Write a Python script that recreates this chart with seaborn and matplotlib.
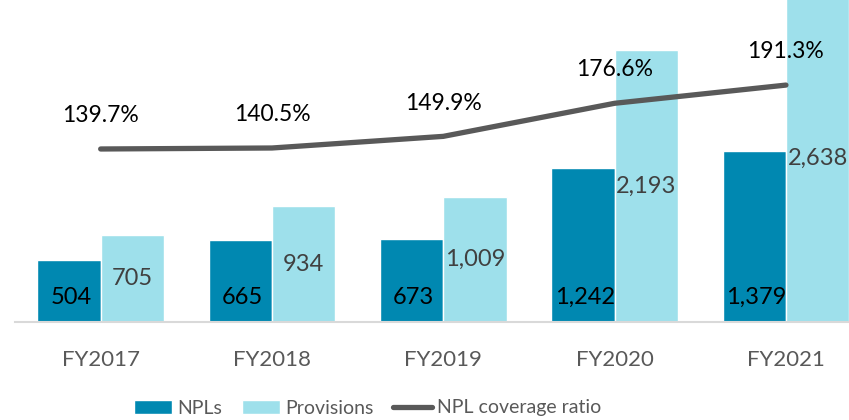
import numpy as np
import pandas as pd
import matplotlib.pyplot as plt
import seaborn as sns
from matplotlib.patches import Patch
from matplotlib.lines import Line2D

years = ['FY2017', 'FY2018', 'FY2019', 'FY2020', 'FY2021']
npls = [504, 665, 673, 1242, 1379]
provisions = [705, 934, 1009, 2193, 2638]
coverage = [139.7, 140.5, 149.9, 176.6, 191.3]

c_npl = '#0088B1'
c_prov = '#9EE0EB'
c_line = '#595959'
c_text = '#595959'

sns.set_style('white')
plt.rcParams['font.family'] = ['Lato', 'DejaVu Sans']

df = pd.DataFrame({
    'year': years * 2,
    'value': npls + provisions,
    'series': ['NPLs'] * 5 + ['Provisions'] * 5,
})

fig = plt.figure(figsize=(8.49, 4.2), dpi=100)
ax = fig.add_axes([15 / 849, 98 / 420, 834 / 849, 322 / 420])

sns.barplot(data=df, x='year', y='value', hue='series', order=years,
            palette=[c_npl, c_prov], width=0.74, saturation=1,
            legend=False, ax=ax)
ax.set_ylim(0, 2600)
ax.set_xlim(-0.5, 4.368)
ax.set_xlabel('')
ax.set_ylabel('')
ax.set_yticks([])
ax.tick_params(axis='x', length=0, pad=20, labelsize=16, labelcolor=c_text)
for s in ['top', 'right', 'left']:
    ax.spines[s].set_visible(False)
ax.spines['bottom'].set_color('#D9D9D9')
ax.spines['bottom'].set_linewidth(1.5)

# bar labels: NPLs near the base, provisions at the centre
npl_bars = ax.containers[0]
prov_bars = ax.containers[1]
for bar, v in zip(npl_bars, npls):
    ax.annotate(f'{v:,}', (bar.get_x() + bar.get_width() / 2, 0),
                xytext=(1.5, 18), textcoords='offset points',
                ha='center', va='center', fontsize=17, color='black')
for bar, v in zip(prov_bars, provisions):
    ax.annotate(f'{v:,}', (bar.get_x() + bar.get_width() / 2, v / 2),
                ha='center', va='center', fontsize=17, color='#404040',
                annotation_clip=False)

ax2 = ax.twinx()
pos = np.arange(len(years))
sns.lineplot(x=pos, y=coverage, color=c_line, linewidth=3.8, ax=ax2,
             legend=False, solid_capstyle='round')
ax2.set_ylim(0, 260)
ax2.set_xlim(-0.5, 4.368)
ax2.axis('off')
for x, v in zip(pos, coverage):
    ax2.annotate(f'{v:.1f}%', (x, v), xytext=(0, 24), textcoords='offset points',
                 ha='center', va='center', fontsize=16.5, color='black')

handles = [
    Patch(facecolor=c_npl, label='NPLs'),
    Patch(facecolor=c_prov, label='Provisions'),
    Line2D([0], [0], color=c_line, linewidth=3.8, label='NPL coverage ratio'),
]
fig.legend(handles=handles, loc='center left',
           bbox_to_anchor=(116 / 849, 1 - 408 / 420),
           ncol=3, frameon=False, fontsize=14, handlelength=2.0,
           handleheight=0.75, handletextpad=0.25, columnspacing=1.0,
           labelcolor=c_text)

fig.savefig('out.png', dpi=100)
